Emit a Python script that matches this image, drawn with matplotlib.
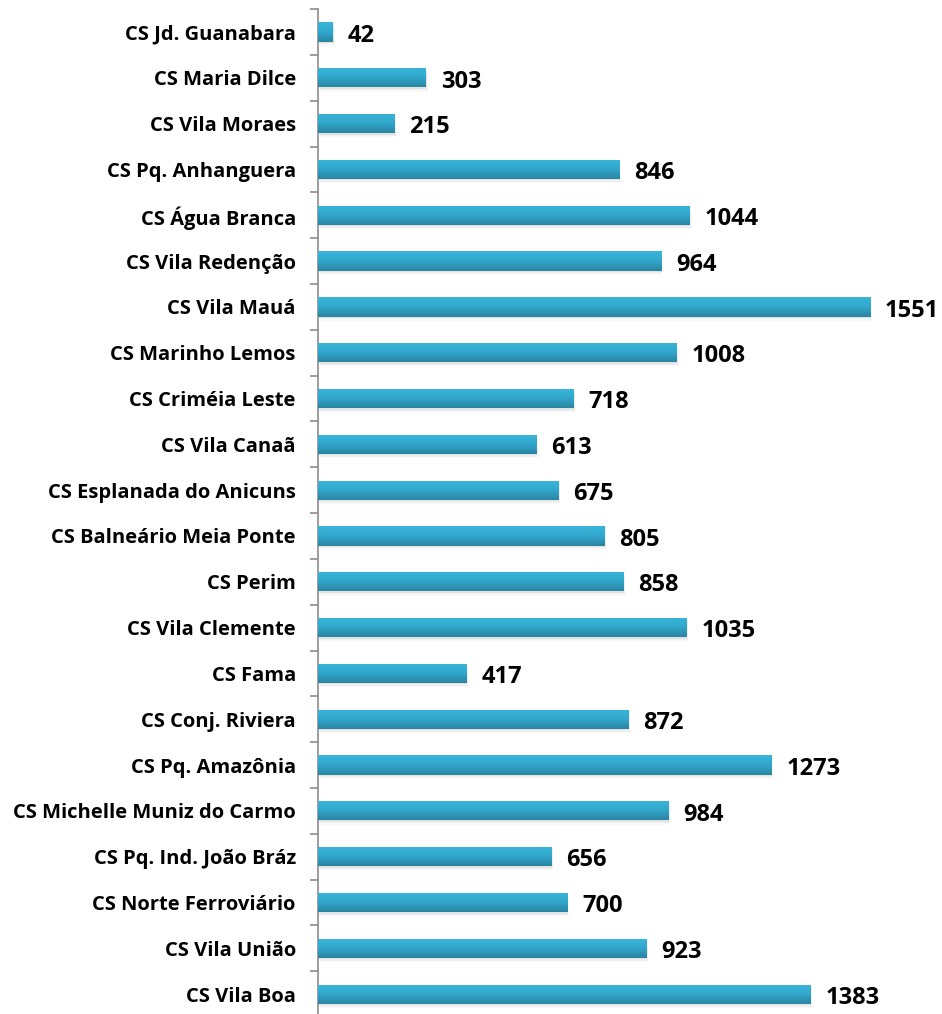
import numpy as np
import matplotlib.pyplot as plt
from matplotlib.colors import LinearSegmentedColormap


def plot_atendimentos(width=9.42, height=10.14):
    """
    Horizontal bar chart of totals per health centre (CS).

    Bars get a light-to-dark vertical gradient and a soft shadow,
    imitating the spreadsheet 'cylinder' look.

    Args:
        width: Figure width in inches
        height: Figure height in inches
    """
    # Units from top to bottom, as in the chart
    units = [
        "CS Jd. Guanabara", "CS Maria Dilce", "CS Vila Moraes",
        "CS Pq. Anhanguera", "CS Água Branca", "CS Vila Redenção",
        "CS Vila Mauá", "CS Marinho Lemos", "CS Criméia Leste",
        "CS Vila Canaã", "CS Esplanada do Anicuns", "CS Balneário Meia Ponte",
        "CS Perim", "CS Vila Clemente", "CS Fama", "CS Conj. Riviera",
        "CS Pq. Amazônia", "CS Michelle Muniz do Carmo",
        "CS Pq. Ind. João Bráz", "CS Norte Ferroviário", "CS Vila União",
        "CS Vila Boa",
    ]
    values = [42, 303, 215, 846, 1044, 964, 1551, 1008, 718, 613, 675,
              805, 858, 1035, 417, 872, 1273, 984, 656, 700, 923, 1383]

    n = len(units)
    pos = np.arange(n)[::-1]  # first unit on top
    bar_h = 0.42

    plt.rcParams["font.family"] = ["Open Sans", "DejaVu Sans"]
    plt.rcParams["font.weight"] = "bold"

    plt.figure(figsize=(width, height), dpi=100)
    plt.subplots_adjust(left=0.3376, right=1.0, bottom=-0.003, top=0.991)
    ax = plt.gca()

    # Soft shadow: a few faint layers below and right of each bar
    for k, a in [(0.03, 0.10), (0.06, 0.08), (0.09, 0.05)]:
        plt.barh(pos - k, values, height=bar_h, left=k * 60, color="#808080",
                 alpha=a, edgecolor="none", zorder=1)

    bars = plt.barh(pos, values, height=bar_h, color="#33acd2",
                    edgecolor="none", zorder=2)

    # Vertical gradient inside every bar (dark at bottom, light at top)
    cmap = LinearSegmentedColormap.from_list("cyl", ["#2a84a2", "#32a7cc", "#39b5da"])
    grad = np.linspace(0, 1, 64).reshape(-1, 1)
    for bar, y, v in zip(bars, pos, values):
        img = plt.imshow(grad, cmap=cmap, aspect="auto", origin="lower",
                         extent=[0, v, y - bar_h / 2, y + bar_h / 2], zorder=3)
        img.set_clip_path(bar)

    # Value labels right of each bar
    for y, v in zip(pos, values):
        plt.text(v + 42, y - 0.08, f"{v}", va="center", ha="left",
                 fontsize=17, fontweight="bold", color="black", zorder=4)

    plt.xlim(0, 1753)
    plt.ylim(-0.5, n - 0.5)
    plt.yticks(pos, units, fontsize=14.5, fontweight="bold")
    plt.xticks([])

    # Tick marks only at category boundaries
    ax.set_yticks(np.arange(n + 1) - 0.5, minor=True)
    ax.tick_params(axis="y", which="major", length=0, pad=16)
    ax.tick_params(axis="y", which="minor", length=6, width=1.2, color="#8c8c8c")

    for side in ["top", "right", "bottom"]:
        ax.spines[side].set_visible(False)
    ax.spines["left"].set_color("#8c8c8c")
    ax.spines["left"].set_linewidth(1.2)

    output_file = "out.png"
    plt.savefig(output_file, dpi=100)
    print(f"Result saved to: {output_file}")


if __name__ == "__main__":
    plot_atendimentos()
